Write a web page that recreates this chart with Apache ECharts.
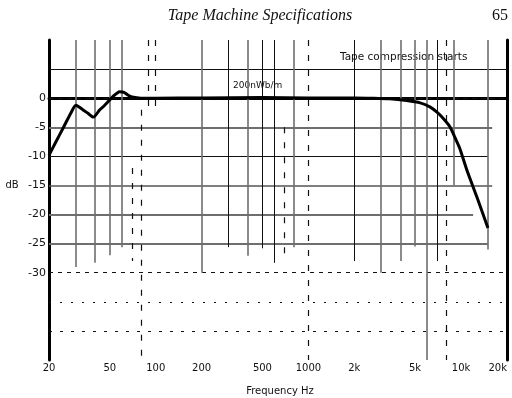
<!DOCTYPE html>
<html>
<head>
<meta charset="utf-8">
<script src="https://cdn.jsdelivr.net/npm/echarts@6/dist/echarts.min.js"></script>
<style>html,body{margin:0;padding:0;background:#fff}#c{width:512px;height:398px}</style>
</head>
<body>
<div id="c"></div>
<script>
// Response curve (Hz, dB)
const freqs  = [20, 22, 25, 28, 30, 33, 36, 39, 43, 46, 50, 53, 56, 58, 62, 66, 70, 80, 100, 200, 500, 1000, 2000, 2650, 3400, 4400, 5400, 6250, 6950, 7600, 8450, 9100, 9800, 10900, 12700, 15000];
const levels = [-9.8, -7.7, -4.9, -2.4, -1.2, -1.9, -2.6, -3.25, -2.0, -1.3, -0.3, 0.4, 0.9, 1.1, 1.0, 0.5, 0.2, 0.0, 0.0, 0.05, 0.1, 0.05, 0.05, 0.0, -0.1, -0.4, -0.8, -1.5, -2.4, -3.4, -4.9, -6.7, -8.6, -12.3, -17.0, -22.3];

// Axis ticks
const xTickFreqs  = [20, 50, 100, 200, 500, 1000, 2000, 5000, 10000, 20000];
const xTickLabels = ['20', '50', '100', '200', '500', '1000', '2k', '5k', '10k', '20k'];
const yTickValues = [0, -5, -10, -15, -20, -25, -30];

// Printed grid
const hGridLevels = [5, 0, -5, -10, -15, -20, -25, -30, -35, -40];
const hGridEnds   = [20000, 20000, 16000, 15000, 16000, 12000, 15000, 20000, 20000, 20000];
const vGridFreqs   = [30, 40, 50, 60, 200, 300, 400, 500, 600, 800, 2000, 3000, 4000, 5000, 6000, 7000, 9000, 15000];
const vGridBottoms = [-29, -28.3, -27, -25.6, -30, -25.6, -27.1, -25.8, -28.3, -25.6, -28, -30, -28, -25.5, -45, -28, -15, -26];
const vDashFreqs   = [70, 80, 90, 100, 700, 1000, 8000];
const vDashTops    = [-12, -2, 10, 10, -5, 10, 10];
const vDashBottoms = [-28, -45, -2, -2, -28, -45, -45];

// Annotations
const noteCompression = 'Tape compression starts';
const noteRef = '200nWb/m';

const L = Math.log10;
const black = '#111';
const gray = '#6e6e6e';

const hStyles = {
  '5':   {color: black, width: 1, type: 'solid'},
  '0':   {color: black, width: 1, type: [5, 4]},
  '-5':  {color: gray, width: 2, type: 'solid'},
  '-10': {color: black, width: 1.2, type: 'solid'},
  '-15': {color: '#555', width: 1.6, type: 'solid'},
  '-20': {color: gray, width: 2, type: 'solid'},
  '-25': {color: gray, width: 2, type: 'solid'},
  '-30': {color: black, width: 1, type: [4, 5]},
  '-35': {color: black, width: 1, type: [2, 9]},
  '-40': {color: black, width: 1, type: [3, 8]}
};
const blackV = new Set([300, 500, 600, 2000, 7000]);

const markData = [];
hGridLevels.forEach((db, i) => {
  markData.push([
    {coord: [L(20), db], lineStyle: hStyles[String(db)]},
    {coord: [L(hGridEnds[i]), db]}
  ]);
});
vGridFreqs.forEach((f, i) => {
  const isBlack = blackV.has(f);
  markData.push([
    {coord: [L(f), 10], lineStyle: {color: isBlack ? black : gray, width: isBlack ? 1 : 1.6, type: 'solid'}},
    {coord: [L(f), vGridBottoms[i]]}
  ]);
});
vDashFreqs.forEach((f, i) => {
  markData.push([
    {coord: [L(f), vDashTops[i]], lineStyle: {color: black, width: 1.2, type: [6, 9]}},
    {coord: [L(f), vDashBottoms[i]]}
  ]);
});

const labelMap = {};
xTickFreqs.forEach((f, i) => { labelMap[f] = xTickLabels[i]; });

const chart = echarts.init(document.getElementById('c'), null, {renderer: 'canvas'});
chart.setOption({
  animation: false,
  backgroundColor: '#fff',
  grid: {left: 49, right: 5, top: 40, bottom: 38},
  xAxis: {
    type: 'value',
    min: L(20), max: L(20000),
    axisLine: {show: true, lineStyle: {color: '#000', width: 3}},
    axisTick: {show: false},
    splitLine: {show: false},
    axisLabel: {
      customValues: xTickFreqs.map(L),
      formatter: v => labelMap[Math.round(Math.pow(10, v))] || '',
      alignMaxLabel: 'right',
      color: '#111', fontFamily: 'DejaVu Sans', fontSize: 10, margin: 3
    }
  },
  yAxis: [{
    type: 'value',
    min: -45, max: 10, interval: 5,
    axisLine: {show: true, lineStyle: {color: '#000', width: 3}},
    axisTick: {show: false},
    splitLine: {show: false},
    axisLabel: {
      customValues: yTickValues,
      formatter: v => String(v),
      color: '#111', fontFamily: 'DejaVu Sans', fontSize: 11, margin: 3
    }
  }, {
    type: 'value', position: 'right',
    min: -45, max: 10, interval: 5,
    axisLine: {show: true, lineStyle: {color: '#000', width: 3}},
    axisTick: {show: false},
    axisLabel: {show: false},
    splitLine: {show: false}
  }],
  series: [{
    type: 'line',
    name: 'grid',
    data: [],
    z: 1,
    silent: true,
    markLine: {silent: true, symbol: 'none', label: {show: false}, animation: false, data: markData}
  }, {
    type: 'line',
    name: 'response',
    z: 5,
    data: freqs.map((f, i) => [L(f), levels[i]]),
    showSymbol: false,
    smooth: 0.25,
    lineStyle: {color: '#000', width: 3}
  }],
  graphic: [
    {type: 'text', style: {x: 260, y: 16, text: 'Tape Machine Specifications', font: 'italic 16px "Liberation Serif"', fill: '#111', textAlign: 'center', textVerticalAlign: 'middle'}},
    {type: 'text', style: {x: 500, y: 16, text: '65', font: '16px "Liberation Serif"', fill: '#111', textAlign: 'center', textVerticalAlign: 'middle'}},
    {type: 'text', style: {x: 340, y: 57, text: noteCompression, font: '10.5px "DejaVu Sans"', fill: '#111', textAlign: 'left', textVerticalAlign: 'middle'}},
    {type: 'text', style: {x: 233, y: 86, text: noteRef, font: '9px "DejaVu Sans"', fill: '#111', textAlign: 'left', textVerticalAlign: 'middle'}},
    {type: 'text', style: {x: 12, y: 185, text: 'dB', font: '10px "DejaVu Sans"', fill: '#111', textAlign: 'center', textVerticalAlign: 'middle'}},
    {type: 'text', style: {x: 280, y: 391, text: 'Frequency Hz', font: '10px "DejaVu Sans"', fill: '#111', textAlign: 'center', textVerticalAlign: 'middle'}}
  ]
});
</script>
</body>
</html>
